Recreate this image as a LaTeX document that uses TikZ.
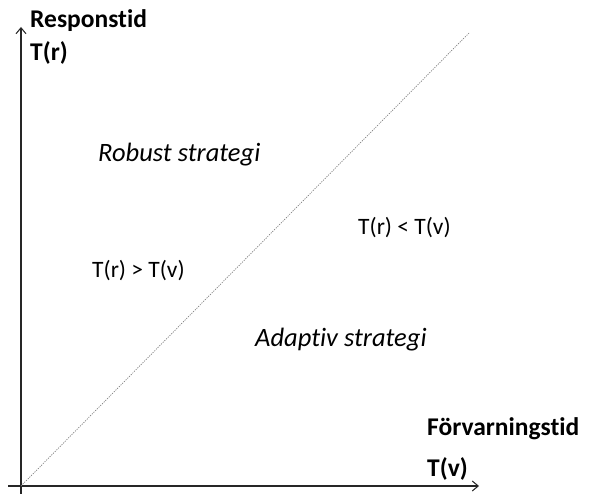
\documentclass[tikz,border=0pt]{standalone}
\usepackage{fontspec}
\setmainfont{Carlito}[Ligatures=NoCommon]
\usetikzlibrary{arrows.meta}
\begin{document}
\begin{tikzpicture}[x=1pt,y=-1pt,
  axis/.style={line width=1.4pt,draw=black!85,-{Straight Barb[length=6pt,width=10pt,line width=1pt]}},
  boldlbl/.style={anchor=west,inner sep=0pt,font=\bfseries\fontsize{25.5}{28}\selectfont},
  itlbl/.style={anchor=west,inner sep=0pt,font=\itshape\fontsize{26.5}{30}\selectfont},
  reglbl/.style={anchor=west,inner sep=0pt,font=\fontsize{23.5}{27}\selectfont},
  diag/.style={gray,line width=0.7pt,dash pattern=on 1.2pt off 1.2pt}]
\useasboundingbox (0,0) rectangle (590,494);
\coordinate (o) at (21,486);
\coordinate (ybot) at (21,494);
\coordinate (ytop) at (21,27);
\coordinate (xleft) at (8,486);
\coordinate (xright) at (479,486);
\coordinate (dtop) at (469,33);
\draw[axis] (ybot) -- (ytop);
\draw[axis] (xleft) -- (xright);
\draw[diag] (o) -- (dtop);
\node[boldlbl] (resp) at (30,21) {Responstid};
\node[boldlbl] (tr) at (30,53) {T(r)};
\node[boldlbl] (forv) at (427,429) {Förvarningstid};
\node[boldlbl] (tv) at (427,469) {T(v)};
\node[itlbl] (rob) at (98,155) {Robust strategi};
\node[itlbl] (ada) at (255,340) {Adaptiv strategi};
\node[reglbl] (lt) at (358,228) {T(r) < T(v)};
\node[reglbl] (gt) at (92,271) {T(r) > T(v)};
\end{tikzpicture}
\end{document}
